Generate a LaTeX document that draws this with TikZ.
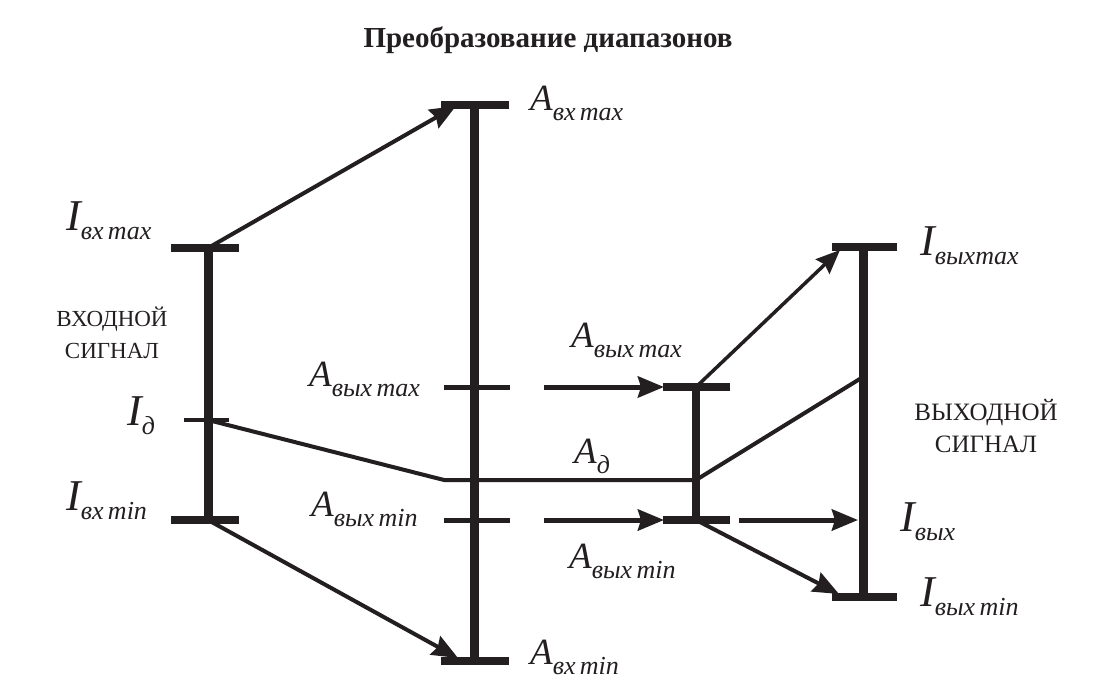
\documentclass[tikz,border=0pt]{standalone}
\usepackage{fontspec}
\setmainfont{Liberation Serif}
\usetikzlibrary{arrows.meta}
\definecolor{ink}{HTML}{231F20}
\newcommand\symA[2]{{\fontsize{37}{37}\selectfont\itshape #1}\raisebox{-10pt}{\fontsize{26}{26}\selectfont\itshape #2}}
\newcommand\symI[2]{{\fontsize{44}{44}\selectfont\itshape #1}\raisebox{-9pt}{\fontsize{26}{26}\selectfont\itshape #2}}
\begin{document}
\begin{tikzpicture}[x=1pt,y=-1pt, color=ink,
  bar/.style={line width=9pt},
  tick/.style={line width=8.5pt},
  thintick/.style={line width=5pt},
  conn/.style={line width=4pt},
  arr/.style={conn, -{Stealth[length=26pt,width=21pt,inset=3pt]}},
  thinarr/.style={line width=3.5pt, -{Stealth[length=24pt,width=20pt,inset=3pt]}},
  lbl/.style={inner sep=0pt, anchor=base west, text=ink},
  sig/.style={inner sep=0pt, align=center, text=ink},
]
\useasboundingbox (0,0) rectangle (1096,680);
\node[text=ink, font=\fontsize{29}{29}\selectfont\bfseries] (title) at (548,40) {Преобразование диапазонов};

% key points
\coordinate (Ltop) at (208,248);
\coordinate (Lbot) at (208,520);
\coordinate (Ld) at (208,420);
\coordinate (Mtop) at (474,105);
\coordinate (Mbot) at (474,661);
\coordinate (Mhi) at (474,387);
\coordinate (Mlo) at (474,520);
\coordinate (Stop) at (696,387);
\coordinate (Sbot) at (696,520);
\coordinate (Sd) at (696,480);
\coordinate (Rtop) at (863,247);
\coordinate (Rbot) at (863,597);
\coordinate (Rd) at (863,377);
\coordinate (Rin) at (858,520);
\coordinate (Bend) at (444,480);
\coordinate (TipMt) at (456,106);
\coordinate (TipMb) at (458,658);
\coordinate (TipRt) at (840,250);
\coordinate (TipRb) at (839,594);
\coordinate (HiStart) at (544,387);
\coordinate (LoStart) at (544,520);
\coordinate (OutStart) at (739,520);
\coordinate (TipShi) at (664,387);
\coordinate (TipSlo) at (664,520);

% bars
\draw[bar] (Ltop) -- (Lbot);
\draw[bar] (Mtop) -- (Mbot);
\draw[line width=8pt] (Stop) -- (Sbot);
\draw[bar] (Rtop) -- (Rbot);

% ticks
\draw[tick] ([xshift=-37pt]Ltop) -- ([xshift=31pt]Ltop);
\draw[tick] ([xshift=-37pt]Lbot) -- ([xshift=31pt]Lbot);
\draw[line width=4pt] ([xshift=-24pt]Ld) -- ([xshift=21pt]Ld);
\draw[tick] ([xshift=-33pt]Mtop) -- ([xshift=35pt]Mtop);
\draw[tick] ([xshift=-33pt]Mbot) -- ([xshift=35pt]Mbot);
\draw[thintick] ([xshift=-30pt]Mhi) -- ([xshift=36pt]Mhi);
\draw[thintick] ([xshift=-30pt]Mlo) -- ([xshift=36pt]Mlo);
\draw[line width=8pt] ([xshift=-33pt]Stop) -- ([xshift=34pt]Stop);
\draw[line width=8pt] ([xshift=-33pt]Sbot) -- ([xshift=34pt]Sbot);
\draw[tick] ([xshift=-31pt]Rtop) -- ([xshift=34pt]Rtop);
\draw[tick] ([xshift=-31pt]Rbot) -- ([xshift=34pt]Rbot);

% connectors
\draw[arr] (Ltop) -- (TipMt);
\draw[arr] (Lbot) -- (TipMb);
\draw[conn, line join=round] (Ld) -- (Bend) -- (Sd);
\draw[conn] (Sd) -- (Rd);
\draw[arr, line width=5pt] (HiStart) -- (TipShi);
\draw[arr, line width=5pt] (LoStart) -- (TipSlo);
\draw[arr, line width=5pt] (OutStart) -- (Rin);
\draw[thinarr] (Stop) -- (TipRt);
\draw[arr] (Sbot) -- (TipRb);

% labels
\node[lbl] (lImax) at (66,230) {\symI{I}{вх\,max}};
\node[lbl] (lImin) at (66,510) {\symI{I}{вх\,min}};
\node[lbl] (lId) at (127,425) {\symI{I}{д}};
\node[sig, font=\fontsize{23}{32}\selectfont] (insig) at (112,333) {ВХОДНОЙ\\СИГНАЛ};
\node[lbl] (lAmax) at (530,110) {\symA{A}{вх\,max}};
\node[lbl] (lAmin) at (530,664) {\symA{A}{вх\,min}};
\node[lbl] (lAomL) at (309,386) {\symA{A}{вых\,max}};
\node[lbl] (lAonL) at (311,516) {\symA{A}{вых\,min}};
\node[lbl] (lAomR) at (571,347) {\symA{A}{вых\,max}};
\node[lbl] (lAd) at (574,463) {\symA{A}{д}};
\node[lbl] (lAonR) at (569,568) {\symA{A}{вых\,min}};
\node[lbl] (lIomax) at (920,255) {\symI{I}{выхmax}};
\node[lbl] (lIo) at (900,531) {\symI{I}{вых}};
\node[lbl] (lIomin) at (920,606) {\symI{I}{вых\,min}};
\node[sig, font=\fontsize{25}{32}\selectfont] (outsig) at (986,426) {ВЫХОДНОЙ\\СИГНАЛ};
\end{tikzpicture}
\end{document}
